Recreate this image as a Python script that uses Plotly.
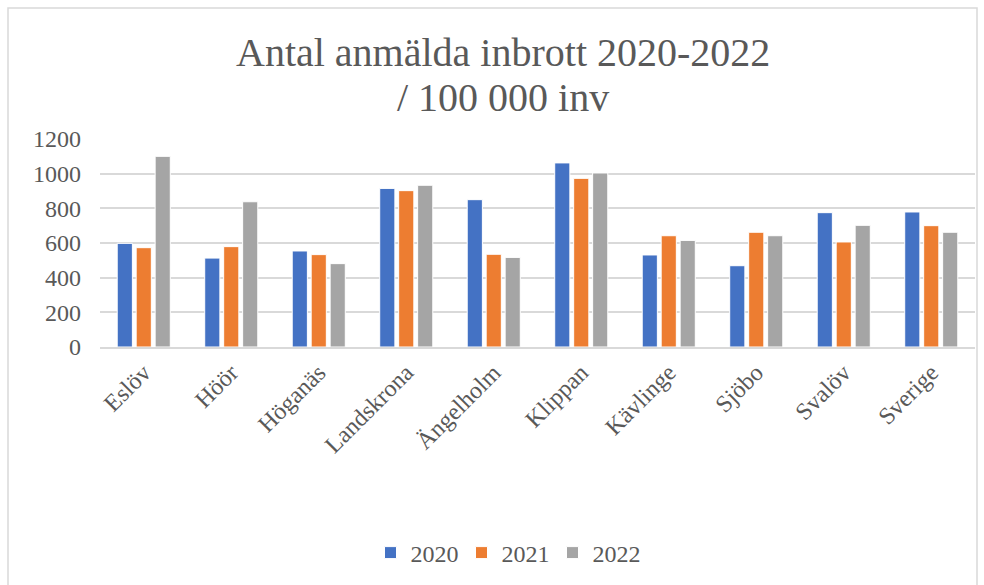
import plotly.graph_objects as go

# data
kommuner = ["Eslöv", "Höör", "Höganäs", "Landskrona", "Ängelholm",
            "Klippan", "Kävlinge", "Sjöbo", "Svalöv", "Sverige"]
v2020 = [598, 513, 554, 915, 850, 1062, 531, 469, 775, 779]
v2021 = [573, 579, 533, 902, 535, 973, 642, 662, 606, 700]
v2022 = [1100, 838, 481, 933, 517, 1004, 615, 642, 702, 662]
years = ["2020", "2021", "2022"]
title_lines = ["Antal anmälda inbrott 2020-2022", "/ 100 000 inv"]
colors = ["#4472C4", "#ED7D31", "#A5A5A5"]

W, H = 984, 585
L, R, T, B = 100, 9, 139, 238
pw, ph = W - L - R, H - T - B


def px_x(p):
    return (p - L) / pw


def px_y(p):
    return (H - B - p) / ph


font = "Liberation Serif, DejaVu Serif, serif"
grey = "#595959"

fig = go.Figure()
for yr, vals, c in zip(years, [v2020, v2021, v2022], colors):
    fig.add_trace(go.Bar(x=kommuner, y=vals, name=yr,
                         marker=dict(color=c, line=dict(color="white", width=1))))

# two-line title as annotations (tighter line spacing than the title box)
for txt, ypix in zip(title_lines, [53, 97]):
    fig.add_annotation(text=txt, xref="paper", yref="paper",
                       x=px_x(503), y=px_y(ypix), xanchor="center", yanchor="middle",
                       showarrow=False, font=dict(size=40, color=grey, family=font))

fig.update_layout(
    width=W, height=H,
    margin=dict(l=L, r=R, t=T, b=B),
    paper_bgcolor="white", plot_bgcolor="white",
    font=dict(family=font, color=grey, size=24),
    barmode="group", bargap=0.35, bargroupgap=0.2,
    showlegend=True,
    legend=dict(orientation="h", x=px_x(507), xanchor="center",
                y=px_y(553), yanchor="middle",
                font=dict(size=24, color=grey, family=font),
                itemwidth=30, entrywidth=46, entrywidthmode="pixels",
                traceorder="normal"),
    xaxis=dict(tickangle=-45, showgrid=False, showline=True,
               linecolor="#d9d9d9", linewidth=2, ticks="",
               tickfont=dict(size=24, color=grey)),
    yaxis=dict(range=[0, 1200], dtick=200, showgrid=True,
               gridcolor="#d9d9d9", gridwidth=1.5, zeroline=False,
               ticks="", tickfont=dict(size=24, color=grey),
               ticklabelstandoff=18),
    shapes=[dict(type="rect", xref="paper", yref="paper",
                 x0=px_x(8), x1=px_x(977), y0=px_y(600), y1=px_y(8),
                 line=dict(color="#d9d9d9", width=1.5), layer="below")],
)

fig.write_html("out.html", config={"displayModeBar": False},
               post_script="document.body.style.margin='0';")
